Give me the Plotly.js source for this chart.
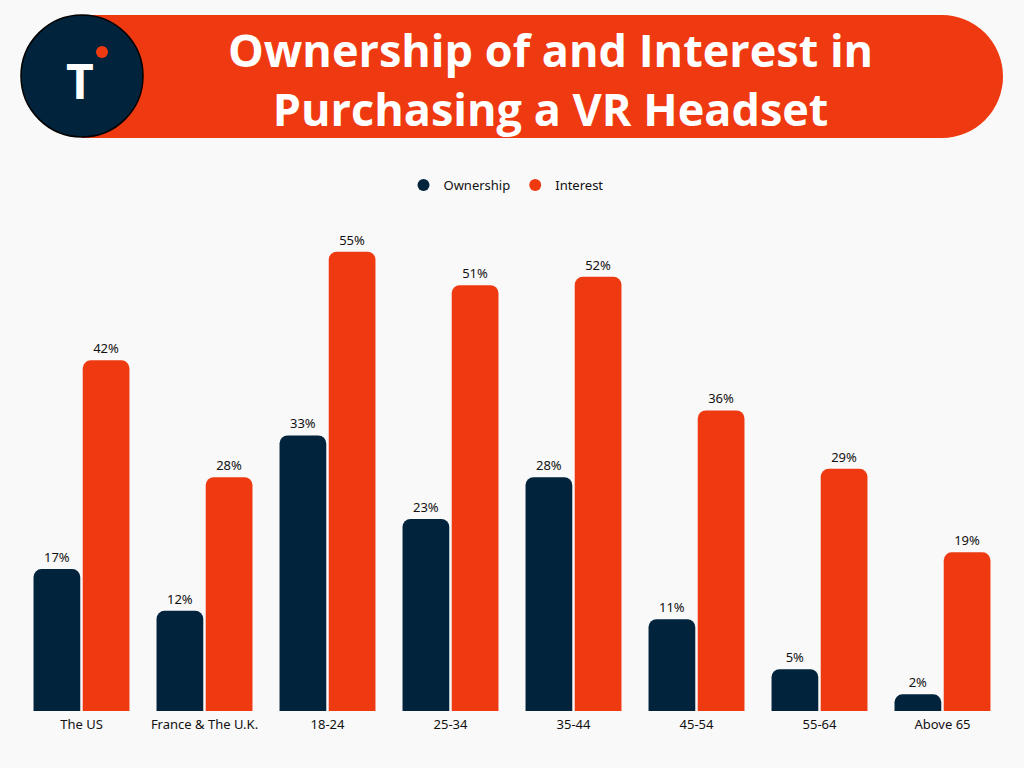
<!DOCTYPE html>
<html>
<head>
<meta charset="utf-8">
<script src="https://cdn.plot.ly/plotly-3.0.1.min.js"></script>
<style>html,body{margin:0;padding:0;background:#f9f9f9;}#chart{width:1024px;height:768px;}</style>
</head>
<body>
<div id="chart"></div>
<script>
const categories = ["The US", "France & The U.K.", "18-24", "25-34", "35-44", "45-54", "55-64", "Above 65"];
const ownership = [17, 12, 33, 23, 28, 11, 5, 2];
const interest = [42, 28, 55, 51, 52, 36, 29, 19];
const seriesNames = ["Ownership", "Interest"];
const titleText = "Ownership of and Interest in<br>Purchasing a VR Headset";

const NAVY = "#01233c";
const ORANGE = "#ef3911";

// pixel -> paper helpers (plot area: x 20..1004, y 210..711)
const L = 20, R = 1004, T = 210, B = 711;
const px = v => (v - L) / (R - L);
const py = v => (B - v) / (B - T);

const pct = a => a.map(v => v + "%");

const traces = [
  {type: "bar", name: seriesNames[0], x: categories, y: ownership, text: pct(ownership),
   textposition: "outside", cliponaxis: false, showlegend: false,
   textfont: {family: "Noto Sans", size: 13, color: "#111"},
   marker: {color: NAVY, cornerradius: 8}},
  {type: "bar", name: seriesNames[1], x: categories, y: interest, text: pct(interest),
   textposition: "outside", cliponaxis: false, showlegend: false,
   textfont: {family: "Noto Sans", size: 13, color: "#111"},
   marker: {color: ORANGE, cornerradius: 8}},
  {type: "scatter", mode: "markers", name: seriesNames[0], x: [categories[0]], y: [null],
   marker: {color: NAVY, size: 12, symbol: "circle"}},
  {type: "scatter", mode: "markers", name: seriesNames[1], x: [categories[0]], y: [null],
   marker: {color: ORANGE, size: 12, symbol: "circle"}}
];

const layout = {
  width: 1024, height: 768,
  paper_bgcolor: "#f9f9f9", plot_bgcolor: "#f9f9f9",
  margin: {l: L, r: 1024 - R, t: T, b: 768 - B},
  barmode: "group", bargap: 0.2, bargroupgap: 0.05,
  showlegend: true,
  legend: {orientation: "h", x: px(506), xanchor: "center", y: py(185), yanchor: "middle",
           font: {family: "Noto Sans", size: 13, color: "#111"}, itemwidth: 30, bgcolor: "rgba(0,0,0,0)"},
  xaxis: {type: "category", showgrid: false, zeroline: false, showline: false, ticks: "",
          ticklabelstandoff: 4,
          tickfont: {family: "Noto Sans", size: 13, color: "#111"}, fixedrange: true},
  yaxis: {range: [0, 60], visible: false, showgrid: false, zeroline: false, fixedrange: true},
  shapes: [
    // banner pill
    {type: "rect", xref: "paper", yref: "paper", x0: px(82), x1: px(942), y0: py(138), y1: py(15),
     fillcolor: ORANGE, line: {width: 0}, layer: "below"},
    {type: "circle", xref: "paper", yref: "paper", x0: px(881), x1: px(1003), y0: py(138), y1: py(15),
     fillcolor: ORANGE, line: {width: 0}, layer: "below"},
    // logo
    {type: "circle", xref: "paper", yref: "paper", x0: px(21), x1: px(143), y0: py(137), y1: py(15),
     fillcolor: NAVY, line: {width: 1.5, color: "#000"}},
    {type: "circle", xref: "paper", yref: "paper", x0: px(96), x1: px(108), y0: py(58), y1: py(46),
     fillcolor: ORANGE, line: {width: 0}}
  ],
  annotations: [
    {xref: "paper", yref: "paper", x: px(550), y: py(79), xanchor: "center", yanchor: "middle",
     text: titleText, showarrow: false, align: "center",
     font: {family: "Open Sans", size: 45, color: "#fff", weight: 700}},
    {xref: "paper", yref: "paper", x: px(80), y: py(80), xanchor: "center", yanchor: "middle",
     text: "T", showarrow: false,
     font: {family: "Open Sans", size: 48, color: "#fff", weight: 700}}
  ]
};

Plotly.newPlot("chart", traces, layout, {displayModeBar: false, staticPlot: true});
</script>
</body>
</html>
